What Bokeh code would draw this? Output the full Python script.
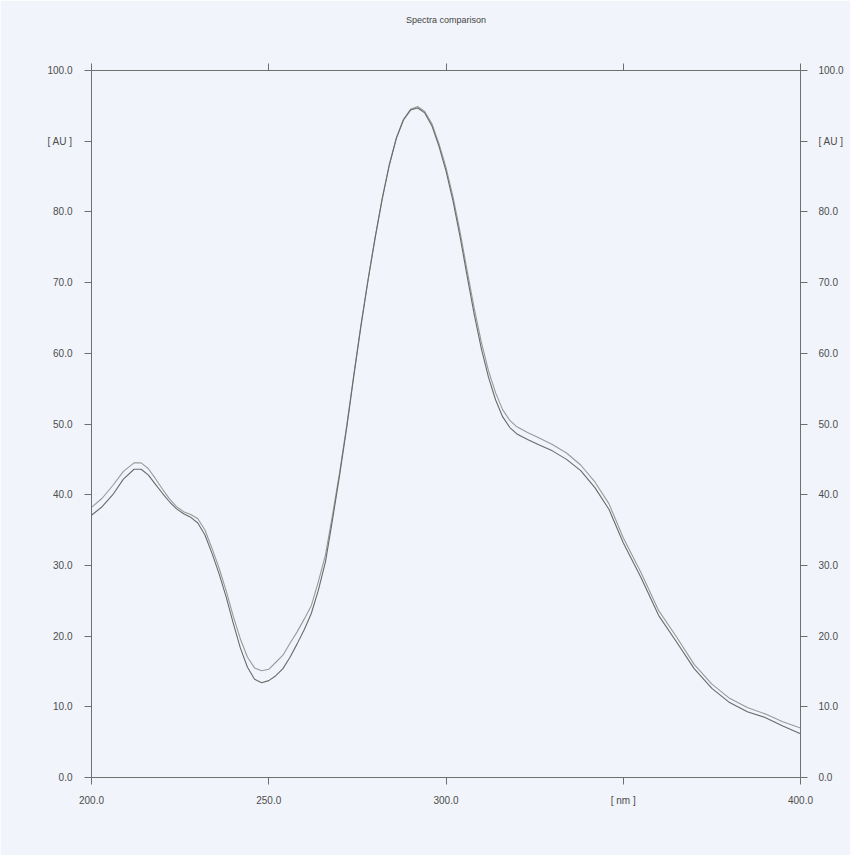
from bokeh.plotting import figure
from bokeh.models import LinearAxis, FixedTicker, Range1d
from bokeh.embed import file_html
from bokeh.resources import INLINE

title_text = "Spectra comparison"

nm = [200, 203, 206, 209, 212, 214, 216, 218, 220, 222, 224, 226, 228, 230, 232, 234, 236, 238,
      240, 242, 244, 246, 248, 250, 252, 254, 256, 258, 260, 262, 264, 266, 268, 270, 272, 274,
      276, 278, 280, 282, 284, 286, 288, 290, 292, 294, 296, 298, 300, 302, 304, 306, 308, 310,
      312, 314, 316, 318, 320, 323, 326, 330, 334, 338, 342, 346, 350, 355, 360, 365, 370, 375,
      380, 385, 390, 395, 400]

spectrum_a = [38.2, 39.5, 41.3, 43.3, 44.5, 44.5, 43.7, 42.3, 40.8, 39.4, 38.3, 37.6, 37.2, 36.6,
              35.0, 32.4, 29.6, 26.4, 22.8, 19.6, 17.0, 15.5, 15.1, 15.3, 16.3, 17.3, 19.0, 20.6,
              22.4, 24.3, 27.7, 31.5, 37.2, 43.2, 49.8, 57.0, 64.0, 70.4, 76.4, 81.9, 86.7, 90.5,
              93.1, 94.5, 94.9, 94.2, 92.5, 89.7, 86.3, 82.1, 77.1, 71.6, 66.3, 61.5, 57.5, 54.4,
              52.0, 50.5, 49.6, 48.8, 48.1, 47.1, 45.9, 44.2, 41.8, 38.7, 33.9, 29.0, 23.6, 19.9,
              16.0, 13.2, 11.2, 9.9, 9.0, 7.9, 7.0]

spectrum_b = [37.1, 38.3, 40.0, 42.2, 43.6, 43.6, 42.8, 41.5, 40.2, 39.0, 38.0, 37.3, 36.8, 36.0,
              34.3, 31.7, 28.8, 25.5, 21.8, 18.3, 15.6, 13.9, 13.4, 13.7, 14.4, 15.4, 17.0, 18.9,
              20.9, 23.2, 26.5, 30.5, 36.5, 42.8, 49.5, 56.8, 63.8, 70.3, 76.3, 81.8, 86.6, 90.4,
              93.0, 94.4, 94.7, 94.0, 92.2, 89.3, 85.8, 81.5, 76.4, 70.8, 65.4, 60.6, 56.6, 53.4,
              51.0, 49.5, 48.6, 47.8, 47.1, 46.2, 45.0, 43.4, 41.0, 37.9, 33.2, 28.3, 22.9, 19.2,
              15.4, 12.6, 10.6, 9.3, 8.5, 7.3, 6.2]

x_ticks = [200, 250, 300, 350, 400]
x_tick_labels = ["200.0", "250.0", "300.0", "[ nm ]", "400.0"]
y_ticks = [0, 10, 20, 30, 40, 50, 60, 70, 80, 90, 100]
y_tick_labels = ["0.0", "10.0", "20.0", "30.0", "40.0", "50.0", "60.0", "70.0", "80.0", "[ AU ]", "100.0"]

BG = "#f1f4fa"
AX = "#6f6f6f"
TXT = "#4d4d4d"
FONT = "Liberation Sans"

p = figure(frame_width=709, frame_height=707, output_backend="svg", toolbar_location=None,
           x_range=Range1d(200, 400), y_range=Range1d(0, 100),
           x_axis_location=None, y_axis_location=None,
           min_border_left=91, min_border_top=70, min_border_right=50, min_border_bottom=78,
           background_fill_color=BG, border_fill_color=BG, outline_line_color=None)
p.xgrid.visible = False
p.ygrid.visible = False

x_over = {t: l for t, l in zip(x_ticks, x_tick_labels)}
y_over = {t: l for t, l in zip(y_ticks, y_tick_labels)}


def style(ax, labels=True):
    ax.axis_line_color = AX
    ax.axis_line_width = 1
    ax.major_tick_line_color = AX
    ax.major_tick_in = 0
    ax.major_tick_out = 7
    ax.minor_tick_line_color = None
    ax.major_label_text_font = FONT
    ax.major_label_text_font_size = "10px"
    ax.major_label_text_color = TXT
    if not labels:
        ax.major_label_text_alpha = 0


bottom = LinearAxis(ticker=FixedTicker(ticks=x_ticks), major_label_overrides=x_over)
style(bottom)
bottom.major_label_standoff = 10
top = LinearAxis(ticker=FixedTicker(ticks=x_ticks), major_label_overrides=x_over,
                 axis_label=title_text)
style(top, labels=False)
top.major_label_standoff = 0
top.axis_label_standoff = 39
top.axis_label_text_font = FONT
top.axis_label_text_font_size = "9px"
top.axis_label_text_font_style = "normal"
top.axis_label_text_color = "#444444"
left = LinearAxis(ticker=FixedTicker(ticks=y_ticks), major_label_overrides=y_over)
style(left)
left.major_label_standoff = 12
right = LinearAxis(ticker=FixedTicker(ticks=y_ticks), major_label_overrides=y_over)
style(right)
right.major_label_standoff = 11

p.add_layout(bottom, "below")
p.add_layout(top, "above")
p.add_layout(left, "left")
p.add_layout(right, "right")

p.line(nm, spectrum_a, line_color="#999999", line_width=1.1)
p.line(nm, spectrum_b, line_color="#6a6a6a", line_width=1.1)

open("out.html", "w").write(file_html(p, INLINE))
